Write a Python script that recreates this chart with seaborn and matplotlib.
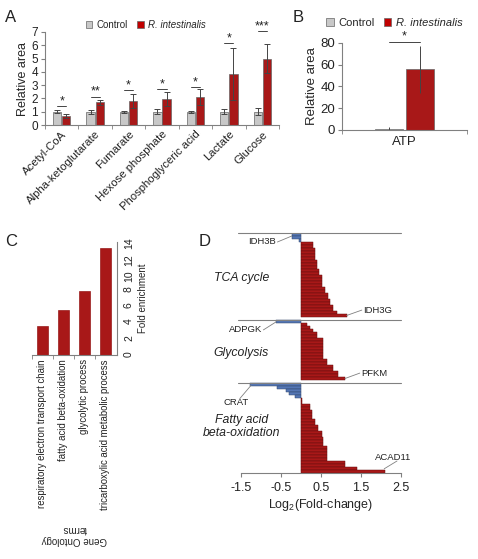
import numpy as np
import pandas as pd
import matplotlib
matplotlib.use('Agg')
import matplotlib.pyplot as plt
import seaborn as sns
from matplotlib.patches import Patch

sns.set_style('ticks')
plt.rcParams['font.family'] = ['Liberation Sans', 'DejaVu Sans']
plt.rcParams['mathtext.default'] = 'regular'
plt.rcParams['axes.unicode_minus'] = False
plt.rcParams['axes.edgecolor'] = '#808080'
plt.rcParams['axes.linewidth'] = 0.8
plt.rcParams['xtick.color'] = '#808080'
plt.rcParams['ytick.color'] = '#808080'
plt.rcParams['xtick.labelcolor'] = '#222222'
plt.rcParams['ytick.labelcolor'] = '#222222'

RED = '#c00000'
GREY = '#c8c8c8'
BLUE = '#4472c4'

# ---- panel A data
metabolites = ['Acetyl-CoA', 'Alpha-ketoglutarate', 'Fumarate', 'Hexose phosphate',
               'Phosphoglyceric acid', 'Lactate', 'Glucose']
ctrl_mean = [1.0, 1.0, 1.0, 1.0, 1.0, 1.0, 1.0]
ctrl_err = [0.1, 0.15, 0.07, 0.18, 0.07, 0.2, 0.26]
ri_mean = [0.68, 1.71, 1.81, 1.94, 2.09, 3.85, 5.0]
ri_err = [0.18, 0.2, 0.55, 0.53, 0.6, 1.95, 1.1]
sig_a = ['*', '**', '*', '*', '*', '*', '***']
sig_a_y = [1.4, 2.14, 2.62, 2.68, 2.85, 6.2, 7.05]

# ---- panel B data
atp_label = ['ATP']
atp_ctrl, atp_ctrl_err = 1.3, 1.2
atp_ri, atp_ri_err = 55.6, 21.4
sig_b_y = 81

# ---- panel C data
go_terms = ['respiratory electron transport chain', 'fatty acid beta-oxidation',
            'glycolytic process', 'tricarboxylic acid metabolic process']
fold_enrich = [3.6, 5.6, 7.9, 13.2]

# ---- panel D data (log2 fold change, one value per gene, top to bottom)
tca_fc = [-0.23, -0.23, -0.05,
          0.3, 0.3, 0.35, 0.35, 0.35, 0.35, 0.4, 0.4, 0.4, 0.45, 0.45, 0.52, 0.52,
          0.52, 0.52, 0.6, 0.6, 0.68, 0.68, 0.72, 0.72, 0.8, 0.8, 0.9, 1.14]
glyc_fc = [-0.62,
           0.14, 0.22, 0.3, 0.39, 0.39, 0.56, 0.56, 0.56, 0.56, 0.56, 0.56, 0.56,
           0.64, 0.64, 0.8, 0.8, 0.93, 0.93, 1.1]
fatty_fc = [-1.27, -0.59, -0.37, -0.29, -0.15, 0.02, 0.02,
            0.22, 0.22, 0.27, 0.27, 0.27, 0.35, 0.35, 0.43, 0.43, 0.52, 0.52,
            0.56, 0.56, 0.56, 0.64, 0.64, 0.64, 0.64, 0.64, 1.1, 1.1, 1.39, 2.1]
sections = ['TCA cycle', 'Glycolysis', 'Fatty acid\nbeta-oxidation']
section_fc = [tca_fc, glyc_fc, fatty_fc]
gene_labels = ['IDH3B', 'IDH3G', 'ADPGK', 'PFKM', 'CRAT', 'ACAD11']

fig = plt.figure(figsize=(4.78, 5.59), dpi=100)

# ================= A
ax_a = fig.add_axes([45 / 478, 1 - 125 / 559, 234 / 478, 93 / 559])
df_a = pd.DataFrame({'metabolite': metabolites * 2,
                     'group': ['Control'] * 7 + ['R. intestinalis'] * 7,
                     'value': ctrl_mean + ri_mean})
sns.barplot(data=df_a, x='metabolite', y='value', hue='group', palette=[GREY, RED],
            width=0.55, gap=0.1, errorbar=None, edgecolor='#666666', linewidth=0.5,
            legend=False, ax=ax_a)
bars = sorted(ax_a.patches, key=lambda p: p.get_x())
errs = [e for pair in zip(ctrl_err, ri_err) for e in pair]
centers = []
for p, e in zip(bars, errs):
    cx = p.get_x() + p.get_width() / 2
    centers.append(cx)
    ax_a.errorbar(cx, p.get_height(), yerr=e, color='#444444', lw=0.7, capsize=2,
                  capthick=0.7)
for i in range(len(metabolites)):
    x1, x2 = centers[2 * i], centers[2 * i + 1]
    ax_a.plot([x1, x2], [sig_a_y[i]] * 2, color='#444444', lw=0.7, clip_on=False)
    ax_a.text((x1 + x2) / 2, sig_a_y[i] - 0.1, sig_a[i], ha='center', va='bottom',
              fontsize=9, color='#222222')
ax_a.set_ylim(0, 7)
ax_a.set_xlim(-0.5, 6.5)
ax_a.set_yticks(range(8))
ax_a.set_xticks(np.arange(-0.5, 7, 1), minor=True)
ax_a.tick_params(axis='x', which='major', length=0, labelsize=8.2, pad=3)
ax_a.tick_params(axis='x', which='minor', length=3)
ax_a.tick_params(axis='y', labelsize=8.5, length=3, pad=2)
for t in ax_a.get_xticklabels():
    t.set_rotation(45)
    t.set_ha('right')
    t.set_rotation_mode('anchor')
ax_a.set_xlabel('')
ax_a.set_ylabel('Relative area', fontsize=9, labelpad=2)
sns.despine(ax=ax_a)
handles = [Patch(facecolor=GREY, edgecolor='#666666', lw=0.5),
           Patch(facecolor=RED, edgecolor='#666666', lw=0.5)]
leg = ax_a.legend(handles, ['Control', 'R. intestinalis'], ncol=2, frameon=False,
                  loc='center', bbox_to_anchor=(0.43, 1.075), fontsize=7,
                  handlelength=0.7, handleheight=0.7, handletextpad=0.4,
                  columnspacing=1.0)
leg.get_texts()[1].set_style('italic')

# ================= B
ax_b = fig.add_axes([342 / 478, 1 - 130 / 559, 125 / 478, 87.3 / 559])
df_b = pd.DataFrame({'metabolite': atp_label * 2,
                     'group': ['Control', 'R. intestinalis'],
                     'value': [atp_ctrl, atp_ri]})
sns.barplot(data=df_b, x='metabolite', y='value', hue='group', palette=[GREY, RED],
            width=0.5, gap=0.1, errorbar=None, edgecolor='#666666', linewidth=0.5,
            legend=False, ax=ax_b)
bars_b = sorted(ax_b.patches, key=lambda p: p.get_x())
cb = []
for p, e in zip(bars_b, [atp_ctrl_err, atp_ri_err]):
    cx = p.get_x() + p.get_width() / 2
    cb.append(cx)
    ax_b.errorbar(cx, p.get_height(), yerr=e, color='#444444', lw=0.7, capsize=0)
ax_b.plot(cb, [sig_b_y] * 2, color='#444444', lw=0.7, clip_on=False)
ax_b.text(np.mean(cb), sig_b_y - 1, '*', ha='center', va='bottom', fontsize=9,
          color='#222222')
ax_b.set_ylim(0, 80)
ax_b.set_xlim(-0.5, 0.5)
ax_b.set_yticks(range(0, 81, 20))
ax_b.set_xticks([-0.5, 0.5], minor=True)
ax_b.tick_params(axis='x', which='major', length=0, labelsize=9.5, pad=4)
ax_b.tick_params(axis='x', which='minor', length=3)
ax_b.tick_params(axis='y', labelsize=9.5, length=3, pad=2)
ax_b.set_xlabel('')
ax_b.set_ylabel('Relative area', fontsize=9.5, labelpad=2)
sns.despine(ax=ax_b)
leg_b = ax_b.legend(handles, ['Control', 'R. intestinalis'], ncol=2, frameon=False,
                    loc='center', bbox_to_anchor=(0.42, 1.225), fontsize=8,
                    handlelength=0.7, handleheight=0.7, handletextpad=0.4,
                    columnspacing=0.8)
leg_b.get_texts()[1].set_style('italic')

# ================= C
ax_c = fig.add_axes([32 / 478, 1 - 355 / 559, 85 / 478, 113.3 / 559])
df_c = pd.DataFrame({'term': go_terms, 'fold': fold_enrich})
sns.barplot(data=df_c, x='term', y='fold', color=RED, width=0.52,
            edgecolor='#8a0000', linewidth=0.4, ax=ax_c)
ax_c.set_ylim(0, 14)
ax_c.set_xlim(-0.5, 3.55)
ax_c.yaxis.tick_right()
ax_c.yaxis.set_label_position('right')
ax_c.set_yticks(range(0, 15, 2))
ax_c.tick_params(axis='y', labelsize=7.5, labelrotation=90, length=3, pad=2)
ax_c.set_xticks(np.arange(-0.5, 3, 1), minor=True)
ax_c.tick_params(axis='x', which='major', length=0, labelsize=6.9, labelrotation=90, pad=3)
ax_c.tick_params(axis='x', which='minor', length=3)
ax_c.set_ylabel('Fold enrichment', fontsize=7, labelpad=3)
ax_c.set_xlabel('Gene Ontology\nterms', fontsize=7, rotation=180, labelpad=10)
sns.despine(ax=ax_c, left=True, right=False)

# ================= D
ax_d = fig.add_axes([241 / 478, 1 - 473 / 559, 160 / 478, 240 / 559])
rows = []
start = 0
bounds = []
gaps = [1, 1, 0]
for name, vals, g in zip(sections, section_fc, gaps):
    bounds.append(start)
    for k, v in enumerate(vals):
        rows.append({'pos': start + k + 0.5, 'fc': v,
                     'dir': 'down' if v < 0 else 'up', 'section': name})
    start += len(vals) + g
n_rows = start
df_d = pd.DataFrame(rows)
sns.barplot(data=df_d, x='fc', y='pos', hue='dir', orient='h', native_scale=True,
            width=1, dodge=False, palette={'down': BLUE, 'up': RED}, errorbar=None,
            legend=False, linewidth=0.35, ax=ax_d)
for p in ax_d.patches:
    fc = p.get_facecolor()
    p.set_edgecolor(tuple(c * 0.6 for c in fc[:3]))
ax_d.set_ylim(n_rows, 0)
ax_d.set_xlim(-1.5, 2.5)
for b in bounds:
    ax_d.plot([-1.58, 2.5], [b, b], color='#808080', lw=0.8, clip_on=False)
ax_d.set_xticks([-1.5, -0.5, 0.5, 1.5, 2.5])
ax_d.set_yticks([])
ax_d.tick_params(axis='x', labelsize=9, length=3)
ax_d.set_ylabel('')
ax_d.set_xlabel('Log$_2$(Fold-change)', fontsize=9, labelpad=2)
sns.despine(ax=ax_d, left=True)

sec_mid = [15, 40, 64.5]
for name, y in zip(sections, sec_mid):
    ax_d.text(-1.49, y, name, ha='center', va='center', fontsize=8.8, style='italic',
              color='#222222', clip_on=False)

# gene callouts: (text x, text y, bar x, bar y, ha)
callouts = [(-0.62, 3.0, -0.23, 1.0, 'right'),
            (1.55, 25.7, 1.14, 27.5, 'left'),
            (-0.97, 32.3, -0.62, 29.6, 'right'),
            (1.5, 46.7, 1.1, 48.5, 'left'),
            (-1.63, 56.5, -1.25, 50.8, 'center'),
            (2.3, 74.7, 2.08, 78.6, 'center')]
for name, (tx, ty, bx, by, ha) in zip(gene_labels, callouts):
    ax_d.text(tx, ty, name, ha=ha, va='center', fontsize=6.8, color='#222222',
              clip_on=False)
    lx = tx + (0.03 if ha == 'right' else -0.03 if ha == 'left' else 0.1)
    ly = ty if ha != 'center' else ty - 1.3 * np.sign(ty - by)
    ax_d.plot([lx, bx], [ly, by], color='#808080', lw=0.6, clip_on=False)

for letter, x, y in [('A', 11, 18), ('B', 298, 17), ('C', 11, 241), ('D', 205, 242)]:
    fig.text(x / 478, 1 - y / 559, letter, ha='center', va='center', fontsize=12,
             color='#222222')

fig.savefig('out.png', dpi=100)
